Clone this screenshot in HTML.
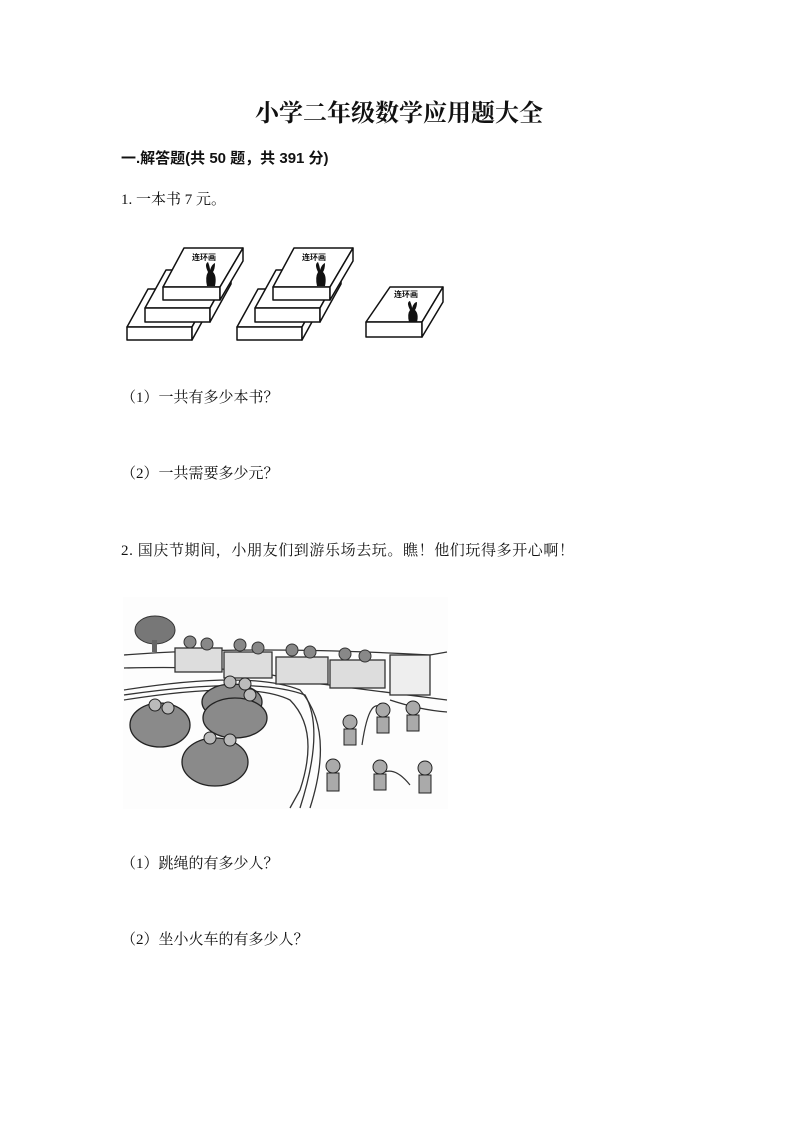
<!DOCTYPE html>
<html><head><meta charset="utf-8"><style>
body{margin:0;background:#fff;width:800px;height:1131px;position:relative;overflow:hidden;font-family:"Liberation Serif","Noto Serif CJK SC",serif;color:#111}
.t{position:absolute;white-space:nowrap;font-size:15px;line-height:1}
</style></head><body>
<div class="t" style="left:255px;top:102px;font-size:24px;font-weight:bold">小学二年级数学应用题大全</div>
<div class="t" style="left:121px;top:151px;font-family:'Liberation Sans','Noto Sans CJK SC',sans-serif;font-weight:bold;font-size:15px">一.解答题(共 50 题，共 391 分)</div>
<div class="t" style="left:121px;top:193px">1. 一本书 7 元。</div>
<svg style="position:absolute;left:0;top:0" width="800" height="1131">
<g fill="#fff" stroke="#111" stroke-width="1.5" stroke-linejoin="round">
<g id="s1">
<path d="M127 327 L148 289 L213 289 L192 327 Z"/><rect x="127" y="327" width="65" height="13"/><path d="M192 327 L213 289 L213 302 L192 340 Z"/>
<path d="M145 308 L166 270 L231 270 L210 308 Z"/><rect x="145" y="308" width="65" height="14"/><path d="M210 308 L231 270 L231 284 L210 322 Z"/>
<path d="M163 287 L184 248 L243 248 L220 287 Z"/><rect x="163" y="287" width="57" height="13"/><path d="M220 287 L243 248 L243 261 L220 300 Z"/>
<text x="192" y="260" font-size="8" font-weight="bold" fill="#111" stroke="none" font-family="Noto Sans CJK SC">连环画</text>
<path d="M208 272 q-4 -8 0 -10 q2 5 2 8 q2 -6 5 -7 q0 6 -2 9 q4 4 2 14 l-8 0 q-2 -9 1 -14z" fill="#111" stroke="none"/>
</g>
<use href="#s1" x="110"/>
<path d="M366 322 L390 287 L443 287 L422 322 Z"/><rect x="366" y="322" width="56" height="15"/><path d="M422 322 L443 287 L443 302 L422 337 Z"/>
<text x="394" y="297" font-size="8" font-weight="bold" fill="#111" stroke="none" font-family="Noto Sans CJK SC">连环画</text>
<path d="M410 310 q-4 -8 0 -9 q2 5 2 7 q2 -6 5 -6 q0 5 -2 8 q4 4 2 12 l-8 0 q-2 -8 1 -12z" fill="#111" stroke="none"/>
</g>
<g>
<rect x="123" y="597" width="325" height="212" fill="#fdfdfd"/>
<g stroke="#333" stroke-width="1.3" fill="none">
<path d="M124 655 Q250 645 430 655 L447 652"/><path d="M124 668 Q250 665 290 680 L447 700"/>
<path d="M124 700 Q250 680 290 700 Q320 730 300 790 L290 808"/>
<path d="M124 690 Q250 670 300 690 Q335 730 310 808"/>
<path d="M124 695 Q255 676 305 695 Q325 730 300 808"/>
<path d="M390 700 Q420 710 447 712"/>
</g>
<ellipse cx="155" cy="630" rx="20" ry="14" fill="#777" stroke="#333"/>
<rect x="152" y="640" width="5" height="12" fill="#666"/>
<g fill="#ddd" stroke="#333" stroke-width="1.3">
<rect x="175" y="648" width="47" height="24"/><rect x="224" y="652" width="48" height="26"/>
<rect x="276" y="657" width="52" height="27"/><rect x="330" y="660" width="55" height="28"/>
<rect x="390" y="655" width="40" height="40" fill="#eee"/>
</g>
<g fill="#888" stroke="#333">
<circle cx="190" cy="642" r="6"/><circle cx="207" cy="644" r="6"/><circle cx="240" cy="645" r="6"/><circle cx="258" cy="648" r="6"/>
<circle cx="292" cy="650" r="6"/><circle cx="310" cy="652" r="6"/><circle cx="345" cy="654" r="6"/><circle cx="365" cy="656" r="6"/>
</g>
<g fill="#8a8a8a" stroke="#222" stroke-width="1.3">
<ellipse cx="160" cy="725" rx="30" ry="22"/><ellipse cx="232" cy="702" rx="30" ry="18"/>
<ellipse cx="235" cy="718" rx="32" ry="20"/><ellipse cx="215" cy="762" rx="33" ry="24"/>
</g>
<g fill="#bbb" stroke="#222">
<circle cx="155" cy="705" r="6"/><circle cx="168" cy="708" r="6"/><circle cx="230" cy="682" r="6"/><circle cx="245" cy="684" r="6"/>
<circle cx="250" cy="695" r="6"/><circle cx="210" cy="738" r="6"/><circle cx="230" cy="740" r="6"/>
</g>
<g stroke="#333" fill="none" stroke-width="1.2">
<path d="M362 745 Q370 690 385 712"/><path d="M375 780 Q390 760 410 785"/>
</g>
<g fill="#aaa" stroke="#222">
<circle cx="350" cy="722" r="7"/><rect x="344" y="729" width="12" height="16"/>
<circle cx="383" cy="710" r="7"/><rect x="377" y="717" width="12" height="16"/>
<circle cx="413" cy="708" r="7"/><rect x="407" y="715" width="12" height="16"/>
<circle cx="333" cy="766" r="7"/><rect x="327" y="773" width="12" height="18"/>
<circle cx="380" cy="767" r="7"/><rect x="374" y="774" width="12" height="16"/>
<circle cx="425" cy="768" r="7"/><rect x="419" y="775" width="12" height="18"/>
</g>
</g>
</svg>
<div class="t" style="left:121px;top:391px">（1）一共有多少本书？</div>
<div class="t" style="left:121px;top:467px">（2）一共需要多少元？</div>
<div class="t" style="left:121px;top:544px;letter-spacing:0.6px">2. 国庆节期间，小朋友们到游乐场去玩。瞧！他们玩得多开心啊！</div>
<div class="t" style="left:121px;top:857px">（1）跳绳的有多少人？</div>
<div class="t" style="left:121px;top:933px">（2）坐小火车的有多少人？</div>
</body></html>
